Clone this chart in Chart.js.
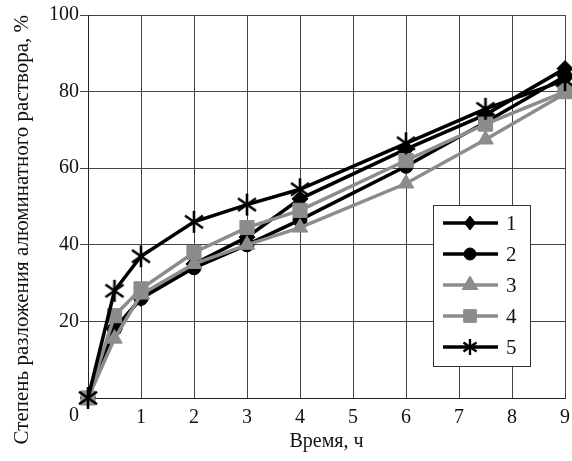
<!DOCTYPE html>
<html>
<head>
<meta charset="utf-8">
<script src="https://cdn.jsdelivr.net/npm/chart.js@4.4.0/dist/chart.umd.min.js"></script>
<style>
  html, body { margin: 0; padding: 0; background: #fff; }
  #wrap { position: relative; width: 572px; height: 461px; }
</style>
</head>
<body>
<div id="wrap"><canvas id="c" width="572" height="461"></canvas></div>
<script>
// ---- data ----
const timeValues = [0, 0.5, 1, 2, 3, 4, 6, 7.5, 9];
const series1 = [0, 18, 26, 35, 42, 52, 65, 74, 86];
const series2 = [0, 18, 26, 34, 40, 46.5, 60.5, 72, 84];
const series3 = [0, 15.5, 27, 35, 40, 44.5, 56, 67.5, 79.5];
const series4 = [0, 21.5, 28.5, 38, 44.5, 49, 62, 71.5, 80];
const series5 = [0, 28, 37, 46, 50.5, 54.5, 66.5, 75.5, 83];
const seriesLabels = ['1', '2', '3', '4', '5'];
const xTickValues = [0, 1, 2, 3, 4, 5, 6, 7, 8, 9];
const yTickValues = [0, 20, 40, 60, 80, 100];
const xTitle = 'Время, ч';
const yTitle = 'Степень разложения алюминатного раствора, %';

const BLACK = '#000000';
const GRAY = '#8c8c8c';
const FONT = '"Liberation Serif", "Times New Roman", serif';

function asterisk(size, lw) {
  const c = document.createElement('canvas');
  c.width = size; c.height = size;
  const g = c.getContext('2d');
  g.strokeStyle = BLACK; g.lineWidth = lw; g.lineCap = 'butt';
  const r = size / 2 - 1, cx = size / 2, cy = size / 2;
  [90, 35, 145].forEach(function (deg) {
    const a = deg * Math.PI / 180;
    g.beginPath();
    g.moveTo(cx + Math.cos(a) * r, cy - Math.sin(a) * r);
    g.lineTo(cx - Math.cos(a) * r, cy + Math.sin(a) * r);
    g.stroke();
  });
  return c;
}
const starBig = asterisk(24, 2.6);
const starSmall = asterisk(18, 2.4);

function pts(ys) { return timeValues.map(function (x, i) { return { x: x, y: ys[i] }; }); }

const styles = [
  { data: series1, color: BLACK, point: 'rectRot', r: 8, lr: 7, order: 3 },
  { data: series2, color: BLACK, point: 'circle', r: 7, lr: 6, order: 4 },
  { data: series3, color: GRAY, point: 'triangle', r: 9, lr: 9, order: 2 },
  { data: series4, color: GRAY, point: 'rect', r: 10, lr: 9, order: 1 },
  { data: series5, color: BLACK, point: starBig, r: 11, lr: 9, order: 0, legendPoint: starSmall }
];

const datasets = styles.map(function (s, i) {
  return {
    label: seriesLabels[i],
    data: pts(s.data),
    borderColor: s.color,
    backgroundColor: s.color,
    borderWidth: 3.5,
    pointStyle: s.point,
    pointRadius: s.r,
    pointHoverRadius: s.r,
    pointBorderWidth: 1,
    pointBackgroundColor: s.color,
    pointBorderColor: s.color,
    tension: 0,
    clip: false,
    order: s.order
  };
});

function drawMarker(ctx, style, radius, x, y, color) {
  ctx.save();
  ctx.fillStyle = color; ctx.strokeStyle = color; ctx.lineWidth = 1;
  if (style instanceof HTMLCanvasElement) {
    ctx.drawImage(style, x - style.width / 2, y - style.height / 2);
    ctx.restore();
    return;
  }
  ctx.beginPath();
  if (style === 'circle') {
    ctx.arc(x, y, radius, 0, Math.PI * 2);
  } else if (style === 'rect') {
    const s = radius * Math.SQRT1_2;
    ctx.rect(x - s, y - s, 2 * s, 2 * s);
  } else if (style === 'rectRot') {
    const s = radius;
    ctx.moveTo(x, y - s); ctx.lineTo(x + s * 0.8, y); ctx.lineTo(x, y + s); ctx.lineTo(x - s * 0.8, y);
    ctx.closePath();
  } else if (style === 'triangle') {
    let a = 0;
    ctx.moveTo(x + Math.sin(a) * radius, y - Math.cos(a) * radius);
    a += 2 * Math.PI / 3;
    ctx.lineTo(x + Math.sin(a) * radius, y - Math.cos(a) * radius);
    a += 2 * Math.PI / 3;
    ctx.lineTo(x + Math.sin(a) * radius, y - Math.cos(a) * radius);
    ctx.closePath();
  }
  ctx.fill(); ctx.stroke();
  ctx.restore();
}

const legendPlugin = {
  id: 'boxLegend',
  afterDatasetsDraw: function (chart) {
    const ctx = chart.ctx, a = chart.chartArea;
    const bx = a.right - 132, by = a.top + 190, bw = 97, bh = 161;
    ctx.save();
    ctx.fillStyle = '#ffffff';
    ctx.fillRect(bx, by, bw, bh);
    ctx.strokeStyle = '#333333';
    ctx.lineWidth = 1;
    ctx.strokeRect(bx + 0.5, by + 0.5, bw, bh);
    ctx.font = '21px ' + FONT;
    ctx.textBaseline = 'middle';
    ctx.textAlign = 'left';
    styles.forEach(function (s, i) {
      const y = by + 18 + i * 31;
      ctx.strokeStyle = s.color;
      ctx.lineWidth = 3.5;
      ctx.beginPath();
      ctx.moveTo(bx + 10, y); ctx.lineTo(bx + 65, y);
      ctx.stroke();
      drawMarker(ctx, s.legendPoint || s.point, s.lr, bx + 37, y, s.color);
      ctx.fillStyle = '#111111';
      ctx.fillText(seriesLabels[i], bx + 73, y + 1);
    });
    ctx.restore();
  }
};

new Chart(document.getElementById('c'), {
  type: 'line',
  data: { datasets: datasets },
  plugins: [legendPlugin],
  options: {
    responsive: false,
    animation: false,
    events: [],
    layout: { autoPadding: false, padding: { left: 0, right: 7, top: 15, bottom: 0 } },
    plugins: { legend: { display: false }, tooltip: { enabled: false } },
    scales: {
      x: {
        type: 'linear',
        min: 0, max: 9,
        afterBuildTicks: function (scale) { scale.ticks = xTickValues.map(function (v) { return { value: v }; }); },
        afterFit: function (scale) { scale.height = 63; scale.paddingRight = 0; scale.paddingLeft = 0; },
        ticks: {
          color: '#111111',
          font: { family: FONT, size: 20 },
          padding: 8,
          maxRotation: 0,
          autoSkip: false,
          callback: function (v) { return v === 0 ? '' : String(v); }
        },
        grid: { color: '#444444', lineWidth: 1, drawTicks: false },
        border: { color: '#222222', width: 1 },
        title: {
          display: true, text: xTitle, color: '#111111',
          font: { family: FONT, size: 20 },
          padding: { top: 0, bottom: 7 }
        }
      },
      y: {
        type: 'linear',
        min: 0, max: 100,
        afterBuildTicks: function (scale) { scale.ticks = yTickValues.map(function (v) { return { value: v }; }); },
        afterFit: function (scale) { scale.width = 88; scale.paddingTop = 0; scale.paddingBottom = 0; },
        ticks: {
          color: '#111111',
          font: { family: FONT, size: 20, lineHeight: 1.8 },
          padding: 1,
          autoSkip: false,
          callback: function (v) { return v === 0 ? ['', '0'] : String(v); }
        },
        grid: { color: '#444444', lineWidth: 1, tickLength: 8 },
        border: { color: '#222222', width: 1 },
        title: {
          display: true, text: yTitle, color: '#111111', align: 'end',
          font: { family: FONT, size: 21 },
          padding: { top: 10, bottom: 0 }
        }
      }
    }
  }
});
</script>
</body>
</html>
